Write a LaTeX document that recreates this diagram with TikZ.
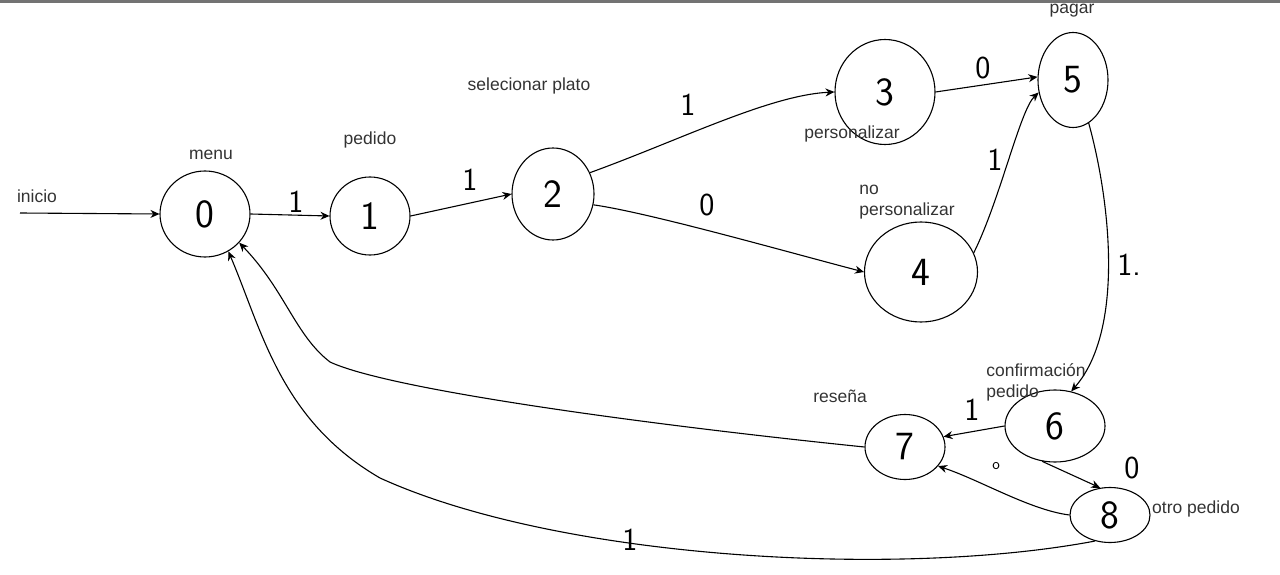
\documentclass[tikz,border=0pt]{standalone}
\usepackage{fontspec}
\setmainfont{Liberation Sans}
\usetikzlibrary{shapes.geometric,arrows.meta}
\begin{document}
\begin{tikzpicture}[x=1pt,y=-1pt,
  st/.style={draw, ellipse, line width=1.1pt, inner sep=0pt, font=\sffamily\fontsize{40}{40}\selectfont},
  lbl/.style={inner sep=0pt, text=black!80, font=\fontsize{17.5}{21}\selectfont},
  hd/.style={inner sep=0pt, font=\sffamily\fontsize{32}{32}\selectfont},
  conn/.style={draw, line width=1.1pt, -{Stealth[length=9pt,width=8pt]}}]
\useasboundingbox (0,0) rectangle (1280,575);
\fill[black!55] (0,0) rectangle (1280,3);
% states
\node[st, minimum width=90pt, minimum height=86pt] (n0) at (205,214) {0};
\node[st, minimum width=80pt, minimum height=78pt] (n1) at (370,216) {1};
\node[st, minimum width=82pt, minimum height=92pt] (n2) at (553,194) {2};
\node[st, minimum width=100pt, minimum height=105pt] (n3) at (885,92) {3};
\node[st, minimum width=113pt, minimum height=100pt] (n4) at (921,272) {4};
\node[st, minimum width=70pt, minimum height=95pt] (n5) at (1073,80) {5};
\node[st, minimum width=100pt, minimum height=72pt] (n6) at (1055,426) {6};
\node[st, minimum width=80pt, minimum height=65pt] (n7) at (905,447) {7};
\node[st, minimum width=80pt, minimum height=55pt] (n8) at (1110,515) {8};
% state labels
\node[lbl] (linicio) at (37,196) {inicio};
\node[lbl] (lmenu) at (211,155) {menu};
\node[lbl] (lpedido) at (370,140) {pedido};
\node[lbl] (lsel) at (529,86) {selecionar plato};
\node[lbl] (lpers) at (852,134) {personalizar};
\node[lbl, align=left] (lnopers) at (907,202) {no\\personalizar};
\node[lbl] (lpagar) at (1072,11) {pagar};
\node[lbl, align=left] (lconf) at (1036,382) {confirmación\\pedido};
\node[lbl] (lresena) at (840,396) {reseña};
\node[lbl] (lotro) at (1196,509) {otro pedido};
% connectors
\coordinate (start) at (20,213);
\draw[conn] (start) -- (n0.west);
\draw[conn] (n0.east) -- (n1.west);
\draw[conn] (n1.east) -- (n2.west);
\draw[conn] (n2.30) .. controls (680,140) and (770,95) .. (n3.west);
\draw[conn] (n2.-15) .. controls (650,213) and (780,250) .. (n4.west);
\draw[conn] (n3.east) -- (n5.175);
\draw[conn] (n4.20) .. controls (1000,200) and (1020,110) .. (n5.200);
\draw[conn] (n5.-70) .. controls (1110,200) and (1125,330) .. (n6.65);
\draw[conn] (n6.west) -- (n7.15);
\draw[conn] (n6.-110) -- (n8.110);
\draw[conn] (n8.west) .. controls (1030,510) and (980,480) .. (n7.-30);
\coordinate (c1) at (330,362);
\draw[conn] (n7.west) .. controls (650,425) and (390,390) .. (c1) .. controls (295,335) and (285,290) .. (n0.-40);
\coordinate (c2) at (380,478);
\draw[conn] (n8.-120) .. controls (900,578) and (560,560) .. (c2) .. controls (280,420) and (262,330) .. (n0.-58);
% edge labels
\node[hd] (e01) at (296,202) {1};
\node[hd] (e12) at (470,180) {1};
\node[hd] (e23) at (688,105) {1};
\node[hd] (e24) at (707,205) {0};
\node[hd] (e35) at (983,68) {0};
\node[hd] (e45) at (995,160) {1};
\node[hd] (e56) at (1129,265) {1.};
\node[hd] (e67) at (972,410) {1};
\node[hd] (e68) at (1132,468) {0};
\node[inner sep=0pt, font=\sffamily\fontsize{16}{16}\selectfont] (e87) at (996,466) {o};
\node[hd] (e80) at (630,540) {1};
\end{tikzpicture}
\end{document}
